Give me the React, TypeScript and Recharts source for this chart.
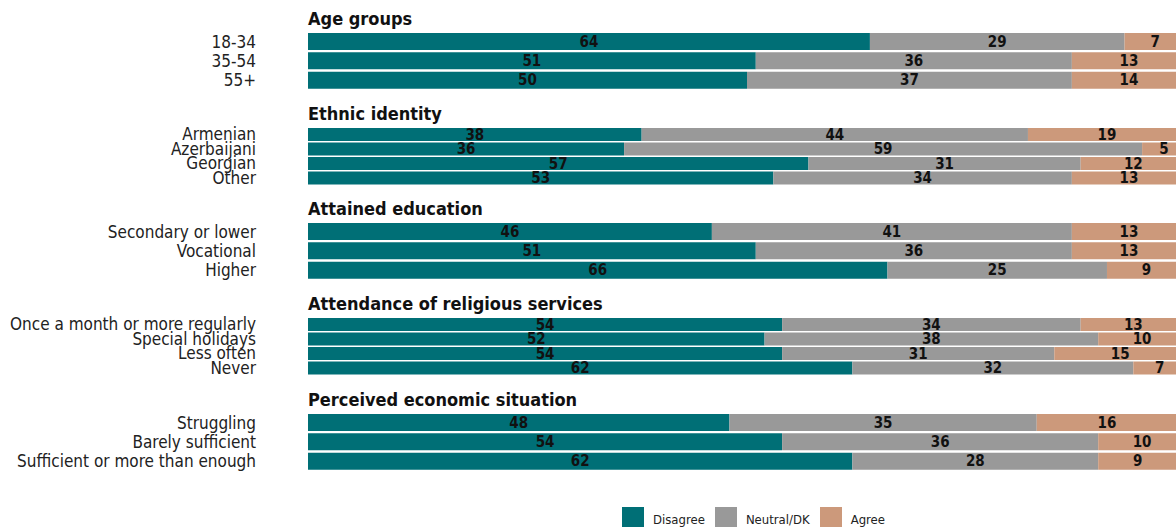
import { BarChart, Bar, XAxis, YAxis, LabelList } from 'recharts';

const FONT = "'Liberation Sans Narrow', 'DejaVu Sans Condensed', 'Roboto', sans-serif";

const ageLabels = ['18-34', '35-54', '55+'];
const ageDisagree = [64, 51, 50];
const ageNeutral = [29, 36, 37];
const ageAgree = [7, 13, 14];

const ethnicLabels = ['Armenian', 'Azerbaijani', 'Georgian', 'Other'];
const ethnicDisagree = [38, 36, 57, 53];
const ethnicNeutral = [44, 59, 31, 34];
const ethnicAgree = [19, 5, 12, 13];

const educationLabels = ['Secondary or lower', 'Vocational', 'Higher'];
const educationDisagree = [46, 51, 66];
const educationNeutral = [41, 36, 25];
const educationAgree = [13, 13, 9];

const religionLabels = ['Once a month or more regularly', 'Special holidays', 'Less often', 'Never'];
const religionDisagree = [54, 52, 54, 62];
const religionNeutral = [34, 38, 31, 32];
const religionAgree = [13, 10, 15, 7];

const economyLabels = ['Struggling', 'Barely sufficient', 'Sufficient or more than enough'];
const economyDisagree = [48, 54, 62];
const economyNeutral = [35, 36, 28];
const economyAgree = [16, 10, 9];

const SERIES = [
  { key: 'disagree', name: 'Disagree', color: '#006f76' },
  { key: 'neutral', name: 'Neutral/DK', color: '#999999' },
  { key: 'agree', name: 'Agree', color: '#cc997b' },
];

function rows(labels: string[], d: number[], n: number[], a: number[]) {
  return labels.map((label, i) => ({ label, disagree: d[i], neutral: n[i], agree: a[i] }));
}

const PANELS = [
  { title: 'Age groups', data: rows(ageLabels, ageDisagree, ageNeutral, ageAgree) },
  { title: 'Ethnic identity', data: rows(ethnicLabels, ethnicDisagree, ethnicNeutral, ethnicAgree) },
  { title: 'Attained education', data: rows(educationLabels, educationDisagree, educationNeutral, educationAgree) },
  { title: 'Attendance of religious services', data: rows(religionLabels, religionDisagree, religionNeutral, religionAgree) },
  { title: 'Perceived economic situation', data: rows(economyLabels, economyDisagree, economyNeutral, economyAgree) },
];

const CHART_W = 1186;
const AXIS_W = 308;
const PLOT_H = 58;

function Panel({ title, data, top }: { title: string; data: any[]; top: number }) {
  return (
    <div style={{ position: 'absolute', left: 0, top, width: CHART_W }}>
      <div
        style={{
          position: 'absolute',
          left: AXIS_W,
          top: -24,
          fontFamily: FONT,
          fontWeight: 'bold',
          fontSize: 18,
          lineHeight: '22px',
          color: '#111',
          whiteSpace: 'nowrap',
        }}
      >
        {title}
      </div>
      <BarChart
        width={CHART_W}
        height={PLOT_H}
        data={data}
        layout="vertical"
        margin={{ top: 0, right: 0, bottom: 0, left: 0 }}
        barCategoryGap={1}
      >
        <XAxis type="number" domain={[0, 100]} hide allowDataOverflow />
        <YAxis
          type="category"
          dataKey="label"
          width={AXIS_W}
          axisLine={false}
          tickLine={false}
          tickSize={0}
          tickMargin={52}
          interval={0}
          tick={{ fontSize: 17, fill: '#222', fontFamily: FONT }}
        />
        {SERIES.map((s) => (
          <Bar key={s.key} dataKey={s.key} stackId="a" fill={s.color} isAnimationActive={false}>
            <LabelList
              dataKey={s.key}
              position="center"
              fill="#111"
              fontSize={15}
              fontWeight="bold"
              fontFamily={FONT}
            />
          </Bar>
        ))}
      </BarChart>
    </div>
  );
}

export default function App() {
  return (
    <div
      style={{
        position: 'absolute',
        left: 0,
        top: 0,
        width: 1176,
        height: 527,
        overflow: 'hidden',
        background: '#fff',
      }}
    >
      <style>{'.recharts-surface { overflow: visible; }'}</style>
      {PANELS.map((p, i) => (
        <Panel key={p.title} title={p.title} data={p.data} top={Math.round(31.5 + 95.3 * i)} />
      ))}
      <div
        style={{
          position: 'absolute',
          left: 622,
          top: 507,
          display: 'flex',
          alignItems: 'center',
          fontFamily: FONT,
          fontSize: 13,
          color: '#222',
        }}
      >
        {SERIES.map((s) => (
          <div key={s.key} style={{ display: 'flex', alignItems: 'center', marginRight: 10 }}>
            <div style={{ width: 22, height: 22, background: s.color, marginRight: 9 }} />
            <span style={{ position: 'relative', top: 1 }}>{s.name}</span>
          </div>
        ))}
      </div>
    </div>
  );
}
